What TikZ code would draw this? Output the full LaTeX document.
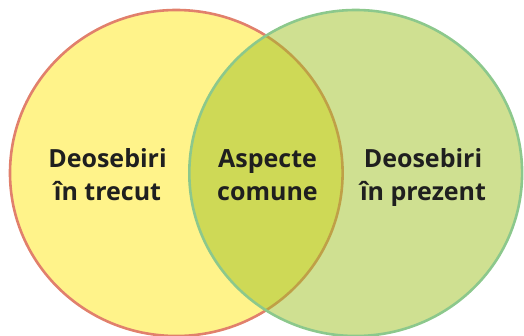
\documentclass[tikz,border=0pt]{standalone}
\usepackage{fontspec}
\setmainfont{Open Sans}
\definecolor{leftfill}{RGB}{255,243,138}
\definecolor{leftline}{RGB}{225,128,108}
\definecolor{rightfill}{RGB}{159,193,35}
\definecolor{rightline}{RGB}{140,200,140}
\tikzset{
  lbl/.style={font=\bfseries\fontsize{25}{33}\selectfont, align=center, anchor=base, inner sep=0pt, text=black!88}
}
\begin{document}
\begin{tikzpicture}[x=1pt,y=-1pt]
\useasboundingbox (0,0) rectangle (524,335);
\draw[line width=2.6pt, leftline, fill=leftfill] (176.3,173) ellipse [x radius=166.3, y radius=163];
\draw[line width=2.6pt, rightline, fill=rightfill, fill opacity=0.5] (355.7,173) ellipse [x radius=166.4, y radius=163];
\node[lbl] (past) at (107.5,200) {Deosebiri\\în trecut};
\node[lbl] (common) at (267.5,200) {Aspecte\\comune};
\node[lbl] (present) at (423,200) {Deosebiri\\în prezent};
\end{tikzpicture}
\end{document}
